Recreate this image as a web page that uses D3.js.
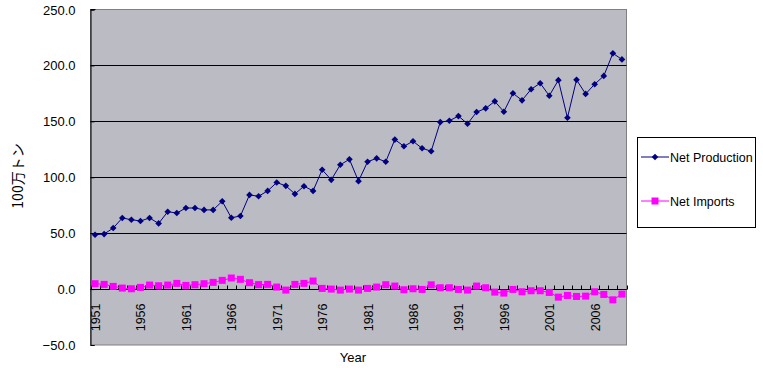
<!DOCTYPE html>
<html><head><meta charset="utf-8">
<script src="https://cdn.jsdelivr.net/npm/d3@7/dist/d3.min.js"></script>
<style>body{margin:0;background:#fff}svg{display:block}text{font-family:"Liberation Sans",Arial,sans-serif;fill:#000}</style>
</head><body><svg id="c" width="763" height="368"></svg>
<script>
const years = d3.range(1951, 2010);
const netProduction = [48.6,49.2,54.6,63.6,62.0,60.9,63.6,58.7,69.2,68.0,72.5,72.5,70.8,70.8,78.5,63.8,65.3,84.2,83.0,87.8,95.3,92.3,85.1,92.0,87.8,106.7,97.7,111.2,116.0,96.5,113.9,116.9,113.9,133.7,127.7,132.2,125.9,123.3,149.3,150.5,154.7,147.8,158.3,161.6,167.9,158.6,175.1,168.8,178.7,184.1,172.9,186.8,153.2,187.1,174.5,183.2,190.6,210.8,205.4];
const netImports = [4.8,4.2,2.4,0.9,0.3,1.5,3.6,3.0,3.6,5.1,3.3,3.9,4.8,6.0,7.8,9.9,8.7,5.7,4.0,4.2,1.8,-0.9,4.2,5.1,7.2,0.6,0.0,-0.9,0.0,-0.9,0.6,1.8,3.9,2.7,-0.6,0.3,-0.3,3.8,1.2,1.2,-0.3,-0.9,2.7,1.2,-2.7,-3.6,-0.3,-2.4,-1.5,-1.5,-3.0,-7.2,-5.7,-6.6,-6.3,-2.4,-4.8,-9.6,-4.5];
const yTicks = [-50,0,50,100,150,200,250];
const xLabelYears = [1951,1956,1961,1966,1971,1976,1981,1986,1991,1996,2001,2006];
const seriesNames = ["Net Production","Net Imports"];

const svg = d3.select("#c");
const L=90.5, R=626.5, T=9.5, B=345;
const x = d3.scaleBand().domain(years).range([L,R]);
const y = d3.scaleLinear().domain([-50,250]).range([B,T]);
const cx = d => x(d)+x.bandwidth()/2;

svg.append("rect").attr("x",L).attr("y",T).attr("width",R-L).attr("height",B-T)
  .attr("fill","#BBBBC3").attr("stroke","#808080").attr("stroke-width",1);

// gridlines
svg.append("g").selectAll("line").data(yTicks.filter(v=>v!==-50 && v!==250)).join("line")
  .attr("x1",L).attr("x2",R).attr("y1",d=>Math.round(y(d))+0.5).attr("y2",d=>Math.round(y(d))+0.5)
  .attr("stroke","#000").attr("stroke-width",1);
svg.append("line").attr("x1",L).attr("x2",L+5).attr("y1",T).attr("y2",T).attr("stroke","#000");

// y axis
const ya = d3.axisLeft(y).tickValues(yTicks).tickFormat(d3.format(".1f")).tickSize(-4).tickPadding(15);
const gy = svg.append("g").attr("transform",`translate(${L},0)`).call(ya);
gy.select(".domain").attr("stroke","#000");
gy.selectAll("text").attr("font-size",13).attr("dy","0.35em");

// x axis at zero
const y0 = Math.round(y(0))+0.5;
svg.append("line").attr("x1",L).attr("x2",R).attr("y1",y0).attr("y2",y0).attr("stroke","#000");
const bounds = years.map(d=>x(d)).concat([R]);
svg.append("g").selectAll("line").data(bounds).join("line")
  .attr("x1",d=>Math.round(d)+0.5).attr("x2",d=>Math.round(d)+0.5).attr("y1",y0-4).attr("y2",y0)
  .attr("stroke","#000");
svg.append("g").selectAll("text").data(xLabelYears).join("text")
  .attr("transform",d=>`translate(${cx(d)+5},${y0+14}) rotate(-90)`)
  .attr("text-anchor","end").attr("font-size",12.5).text(d=>d);

// series
const lineP = d3.line().x((d,i)=>cx(years[i])).y(d=>y(d));
svg.append("path").datum(netProduction).attr("d",lineP).attr("fill","none").attr("stroke","#000080").attr("stroke-width",1);
svg.append("path").datum(netImports).attr("d",lineP).attr("fill","none").attr("stroke","#FF00FF").attr("stroke-width",1);
const diamond = d3.symbol().type(d3.symbolSquare).size(22);
svg.append("g").selectAll("path").data(netProduction).join("path")
  .attr("d",diamond).attr("transform",(d,i)=>`translate(${cx(years[i])},${y(d)}) rotate(45)`).attr("fill","#000080");
svg.append("g").selectAll("rect").data(netImports).join("rect")
  .attr("x",(d,i)=>cx(years[i])-3.5).attr("y",d=>y(d)-3.5).attr("width",7).attr("height",7).attr("fill","#FF00FF");

// titles
svg.append("text").attr("x",353).attr("y",362).attr("text-anchor","middle").attr("font-size",13).text("Year");
svg.append("text").attr("transform","translate(23,176) rotate(-90)").attr("text-anchor","middle")
  .attr("font-size",14).style("font-family","'Noto Sans CJK JP',sans-serif").text("100万トン");

// legend
const lg = svg.append("g");
lg.append("rect").attr("x",637.5).attr("y",137.5).attr("width",118).attr("height",90).attr("fill","#fff").attr("stroke","#000");
const colors = ["#000080","#FF00FF"];
seriesNames.forEach((n,i)=>{
  const ly = 157 + i*44;
  lg.append("line").attr("x1",641).attr("x2",669).attr("y1",ly).attr("y2",ly).attr("stroke",colors[i]);
  if(i===0) lg.append("path").attr("d",diamond).attr("transform",`translate(655,${ly}) rotate(45)`).attr("fill",colors[i]);
  else lg.append("rect").attr("x",651.5).attr("y",ly-3.5).attr("width",7).attr("height",7).attr("fill",colors[i]);
  lg.append("text").attr("x",670).attr("y",ly+5).attr("font-size",12.5).text(n);
});
</script></body></html>
